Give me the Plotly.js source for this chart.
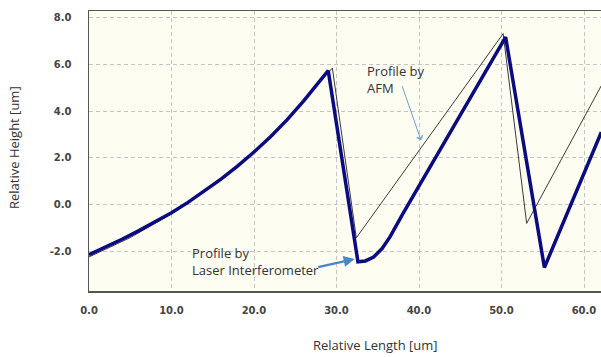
<!DOCTYPE html>
<html>
<head>
<meta charset="utf-8">
<script src="https://cdn.plot.ly/plotly-3.0.1.min.js"></script>
<style>
  html, body { margin: 0; padding: 0; background: #ffffff; }
  #chart { width: 601px; height: 357px; }
</style>
</head>
<body>
<div id="chart"></div>
<script>
// Profile by Laser Interferometer (thick navy line)
const laserX = [0, 2, 4, 6, 8, 10, 12, 14, 16, 18, 20, 22, 24, 26, 28, 29.0,
                32.6, 33.5, 34.5, 35.5, 36.5, 38.0, 50.5,
                55.2, 62.1];
const laserY = [-2.15, -1.83, -1.49, -1.13, -0.75, -0.35, 0.09, 0.57, 1.09, 1.65, 2.25, 2.91, 3.63, 4.43, 5.31, 5.74,
                -2.46, -2.42, -2.25, -1.9, -1.38, -0.42, 7.18,
                -2.7, 3.1];

// Profile by AFM (thin dark line)
const afmX = [0, 5, 10, 15, 20, 25, 28, 29.5, 32.4, 50.2, 53.05, 62.1];
const afmY = [-2.25, -1.42, -0.4, 0.85, 2.25, 4.0, 5.28, 5.85, -1.43, 7.33, -0.81, 5.1];

// Axis ticks
const xTicks = [0, 10, 20, 30, 40, 50, 60];
const yTicks = [-2, 0, 2, 4, 6, 8];
const xTickText = xTicks.map(v => v.toFixed(1));
const yTickText = yTicks.map(v => v.toFixed(1));

const tickFont = {family: 'DejaVu Sans', size: 10, color: '#444444', weight: 'bold'};
const textFont = {family: 'Open Sans', size: 13, color: '#333333'};

const traces = [
  {x: afmX, y: afmY, type: 'scatter', mode: 'lines',
   line: {color: '#3a3a3a', width: 1}, hoverinfo: 'skip', showlegend: false},
  {x: laserX, y: laserY, type: 'scatter', mode: 'lines',
   line: {color: '#0b0b80', width: 3.5}, hoverinfo: 'skip', showlegend: false}
];

const layout = {
  width: 601, height: 357,
  margin: {l: 89, r: 0, t: 11, b: 66, pad: 0},
  paper_bgcolor: '#ffffff',
  plot_bgcolor: '#fdfdf1',
  showlegend: false,
  xaxis: {
    range: [0, 62.06], tickvals: xTicks, ticktext: xTickText,
    showgrid: true, gridcolor: '#c4c4c4', griddash: '4px,3px', gridwidth: 1,
    zeroline: false, showline: true, linecolor: '#555555', linewidth: 1.5, mirror: true,
    ticks: 'outside', ticklen: 9, tickcolor: 'rgba(0,0,0,0)',
    tickfont: tickFont
  },
  yaxis: {
    range: [-3.71, 8.3], tickvals: yTicks, ticktext: yTickText,
    showgrid: true, gridcolor: '#c4c4c4', griddash: '4px,3px', gridwidth: 1,
    zeroline: false, showline: true, linecolor: '#555555', linewidth: 1.5,
    ticks: 'outside', ticklen: 14, tickcolor: 'rgba(0,0,0,0)',
    tickfont: tickFont
  },
  annotations: [
    {xref: 'paper', yref: 'paper', x: (375 - 89) / 512, y: (291 - 345) / 280,
     text: 'Relative Length [um]', showarrow: false, xanchor: 'center', yanchor: 'middle',
     font: textFont},
    {xref: 'paper', yref: 'paper', x: (14 - 89) / 512, y: (291 - 148) / 280,
     text: 'Relative Height [um]', showarrow: false, textangle: -90,
     xanchor: 'center', yanchor: 'middle', font: textFont},
    {xref: 'x', yref: 'y', x: 33.4, y: 6.2, text: 'Profile by<br>AFM', showarrow: false,
     xanchor: 'left', yanchor: 'top', align: 'left', font: textFont},
    {xref: 'x', yref: 'y', x: 40.24, y: 2.76, axref: 'x', ayref: 'y', ax: 37.9, ay: 5.14,
     text: '', showarrow: true, arrowhead: 4, arrowsize: 1.2, arrowwidth: 1, arrowcolor: '#6b9fd0'},
    {xref: 'x', yref: 'y', x: 12.2, y: -1.6, text: 'Profile by<br>Laser Interferometer', showarrow: false,
     xanchor: 'left', yanchor: 'top', align: 'left', font: textFont},
    {xref: 'x', yref: 'y', x: 32.2, y: -2.34, axref: 'x', ayref: 'y', ax: 27.6, ay: -2.7,
     text: '', showarrow: true, arrowhead: 2, arrowsize: 1, arrowwidth: 2.2, arrowcolor: '#4a86c6'}
  ]
};

Plotly.newPlot('chart', traces, layout, {displayModeBar: false, staticPlot: true});
</script>
</body>
</html>
